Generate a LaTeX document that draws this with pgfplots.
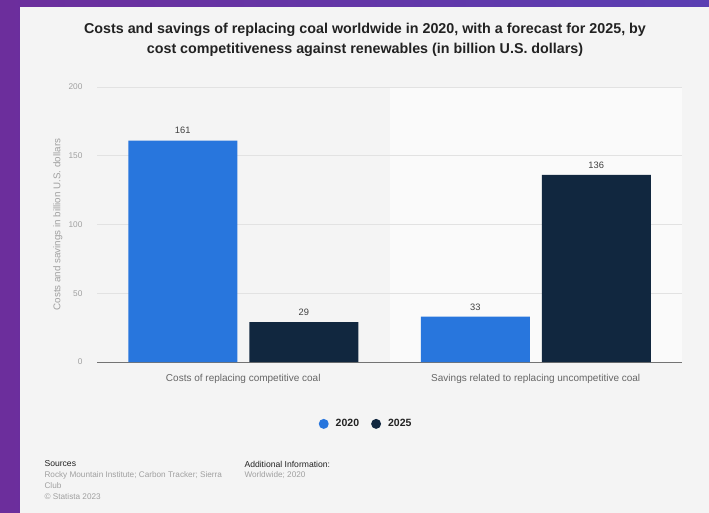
\documentclass[border=0pt]{standalone}
\usepackage{pgfplots}
\pgfplotsset{compat=1.18}
\usepackage{fontspec}
\setmainfont{Liberation Sans}
\definecolor{c2020}{HTML}{2876DD}
\definecolor{c2025}{HTML}{11273F}
\definecolor{purpleA}{HTML}{6C2E9C}
\definecolor{purpleB}{HTML}{5A3EB2}
\definecolor{cardc}{HTML}{F4F4F4}
\definecolor{hlc}{HTML}{FAFAFA}
\definecolor{gridc}{HTML}{E2E2E2}
\definecolor{tickc}{HTML}{A0A0A0}
\definecolor{labc}{HTML}{666666}
\definecolor{titlec}{HTML}{222222}
\begin{document}
\begin{tikzpicture}[x=1pt,y=1pt]
\path[use as bounding box] (0,0) rectangle (709,512);
\begin{scope}
\clip (0,0) rectangle (709,512);
\shade[left color=purpleA, right color=purpleB] (-2,-2) rectangle (711,514);
\fill[cardc] (20,-3) rectangle (712,505);
\end{scope}
\fill[hlc] (389.5,150) rectangle (682,425);
\node[font=\bfseries\fontsize{14.3}{16}\selectfont, text=titlec] at (365,482) {Costs and savings of replacing coal worldwide in 2020, with a forecast for 2025, by};
\node[font=\bfseries\fontsize{14.3}{16}\selectfont, text=titlec] at (365,462) {cost competitiveness against renewables (in billion U.S. dollars)};
\begin{axis}[
  at={(97pt,150pt)}, anchor=south west,
  width=585pt, height=275pt, scale only axis,
  ybar=12pt, bar width=109pt,
  xmin=-0.5, xmax=1.5, ymin=0, ymax=200,
  xtick={0,1},
  xticklabels={Costs of replacing competitive coal, Savings related to replacing uncompetitive coal},
  ytick={0,50,100,150,200},
  ymajorgrids, grid style={gridc, line width=0.8pt},
  axis x line*=bottom, axis y line*=left,
  y axis line style={draw=none},
  x axis line style={draw=black!55, line width=1pt},
  major tick length=0pt,
  /pgf/number format/assume math mode=true,
  yticklabel style={font=\fontsize{8.3}{10}\selectfont, text=tickc, xshift=-11pt},
  xticklabel style={font=\fontsize{10}{12}\selectfont, text=labc, yshift=-9pt},
  ylabel={Costs and savings in billion U.S. dollars},
  every axis y label/.style={at={(axis description cs:-0.067,0.5)}, rotate=90, anchor=center, font=\fontsize{9.8}{11}\selectfont, text=tickc},
  nodes near coords,
  every node near coord/.append style={font=\fontsize{9.3}{11}\selectfont, text=black!75, yshift=3pt},
  legend style={at={(axis description cs:0.46,-0.225)}, anchor=center, draw=none, fill=none,
    legend columns=-1, font=\bfseries\fontsize{10.5}{12}\selectfont, text=titlec,
    /tikz/every odd column/.append style={column sep=5pt},
    /tikz/every even column/.append style={column sep=10pt}},
  legend image code/.code={\path[#1, draw=none] (0pt,0pt) circle (5pt);},
]
\addplot[fill=c2020, draw=none] coordinates {(0,161) (1,33)};
\addplot[fill=c2025, draw=none] coordinates {(0,29) (1,136)};
\legend{2020,2025}
\end{axis}
\node[anchor=west, font=\fontsize{8.6}{10}\selectfont, text=titlec] at (41,48) {Sources};
\node[anchor=west, font=\fontsize{8.2}{10}\selectfont, text=tickc] at (41,36.5) {Rocky Mountain Institute; Carbon Tracker; Sierra};
\node[anchor=west, font=\fontsize{8.2}{10}\selectfont, text=tickc] at (41,26) {Club};
\node[anchor=west, font=\fontsize{8.2}{10}\selectfont, text=tickc] at (41,15.5) {\textcopyright\ Statista 2023};
\node[anchor=west, font=\fontsize{8.6}{10}\selectfont, text=titlec] at (241,48) {Additional Information:};
\node[anchor=west, font=\fontsize{8.2}{10}\selectfont, text=tickc] at (241,36.5) {Worldwide; 2020};
\end{tikzpicture}
\end{document}
